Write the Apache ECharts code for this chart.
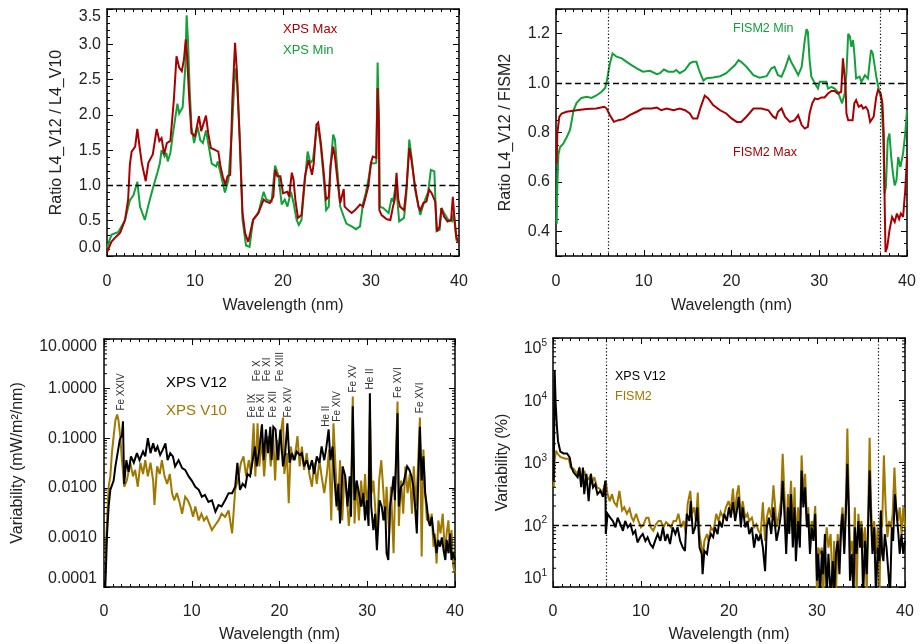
<!DOCTYPE html>
<html>
<head>
<meta charset="utf-8">
<script src="https://cdn.jsdelivr.net/npm/echarts@6/dist/echarts.min.js"></script>
<style>
html, body { margin: 0; padding: 0; background: #fff; }
#chart { width: 921px; height: 644px; }
</style>
</head>
<body>
<div id="chart"></div>
<script>
// ---------- Ratio L4_V12 / L4_V10 : [wavelength nm, ratio] ----------
const xpsMax = [
  [0,0.05],[0.5,0.2],[1.0,0.27],[1.5,0.33],[2.05,0.51],[2.4,0.8],[2.6,1.3],[2.8,1.48],[3.0,1.46],[3.2,1.55],
  [3.45,1.8],[3.7,1.55],[3.95,1.32],[4.4,1.06],[4.7,1.32],[5.2,1.44],[5.65,1.8],[5.95,1.63],[6.2,1.67],[6.5,1.44],
  [6.8,1.6],[7.2,1.63],[7.6,2.22],[7.9,2.83],[8.2,2.67],[8.5,2.62],[8.75,2.79],[8.95,3.07],[9.1,2.83],[9.35,2.22],
  [9.6,1.74],[10.0,1.7],[10.45,1.98],[10.7,1.77],[11.0,1.89],[11.25,1.99],[11.5,1.74],[11.8,1.53],[12.15,1.51],[12.65,1.48],
  [12.9,1.27],[13.15,1.13],[13.45,1.01],[13.7,1.13],[14.0,1.15],[14.25,2.22],[14.55,3.02],[14.75,2.64],[15.05,1.74],[15.4,0.61],
  [15.7,0.32],[16.05,0.2],[16.6,0.51],[17.2,0.61],[17.8,0.8],[18.1,0.77],[18.5,0.75],[18.9,0.84],[19.1,1.22],[19.35,1.13],
  [19.7,1.13],[20.0,0.89],[20.2,0.87],[20.5,0.91],[20.7,0.84],[21.0,1.18],[21.2,1.08],[21.4,0.8],[21.7,0.54],[22.1,0.58],
  [22.5,1.13],[22.9,1.36],[23.3,1.15],[23.5,1.32],[23.8,1.86],[24.0,1.89],[24.3,1.6],[24.6,1.22],[24.9,0.8],[25.2,0.84],
  [25.4,1.27],[25.7,1.55],[25.9,1.41],[26.2,1.06],[26.5,0.75],[26.9,0.95],[27.0,0.7],[27.4,0.65],[27.8,0.61],[28.2,0.65],
  [28.75,0.73],[29.1,0.7],[29.4,0.84],[29.7,0.99],[30.0,1.32],[30.2,1.41],[30.6,1.39],[30.75,2.38],[30.9,1.84],[30.95,0.65],
  [31.2,0.58],[31.8,0.52],[32.2,0.51],[32.5,0.7],[32.7,0.8],[32.9,1.18],[33.1,0.8],[33.3,0.7],[33.75,0.65],[34.05,0.99],
  [34.35,1.53],[34.6,1.36],[35.0,0.99],[35.4,0.7],[35.6,0.65],[35.95,0.75],[36.3,0.77],[36.6,0.94],[36.9,0.89],[37.3,0.77],
  [37.5,0.35],[37.8,0.42],[38.0,0.68],[38.3,0.56],[38.7,0.49],[39.1,0.51],[39.3,0.84],[39.5,0.51],[39.7,0.27],[40,0.18]
];
const xpsMin = [
  [0,0.12],[0.5,0.3],[1.3,0.34],[2.05,0.51],[2.6,0.79],[3.0,0.86],[3.45,1.05],[3.75,0.7],[4.3,0.51],[4.7,0.72],
  [5.26,0.98],[5.7,1.17],[6.0,1.31],[6.2,1.5],[6.55,1.41],[6.75,1.46],[6.9,1.34],[7.2,1.46],[7.5,1.74],[8.0,2.16],
  [8.2,2.02],[8.6,2.11],[8.9,2.68],[9.05,3.41],[9.2,3.06],[9.4,2.35],[9.6,1.83],[9.9,1.6],[10.3,1.83],[10.6,1.64],
  [10.9,1.6],[11.25,1.78],[11.5,1.6],[11.9,1.31],[12.4,1.27],[12.6,1.34],[13.0,1.12],[13.4,0.9],[13.8,1.08],[14.2,1.78],
  [14.55,2.66],[14.8,2.44],[15.1,1.64],[15.4,0.51],[15.8,0.15],[16.2,0.13],[16.6,0.51],[17.2,0.61],[17.8,0.91],[18.1,0.8],
  [18.7,0.77],[19.1,1.28],[19.5,1.13],[19.85,0.73],[20.2,0.8],[20.5,0.7],[20.9,0.91],[21.2,0.75],[21.55,0.51],[21.8,0.44],
  [22.1,0.51],[22.5,1.08],[22.8,1.48],[23.1,1.32],[23.4,1.36],[23.8,1.79],[24.0,1.82],[24.3,1.55],[24.6,1.13],[24.9,0.65],
  [25.2,0.7],[25.4,1.27],[25.7,1.72],[25.9,1.65],[26.2,1.18],[26.5,0.7],[26.9,0.56],[27.2,0.46],[27.8,0.42],[28.3,0.38],
  [28.75,0.42],[29.1,0.75],[29.4,0.89],[29.7,1.08],[30.0,1.32],[30.3,1.31],[30.6,1.32],[30.75,2.74],[30.9,1.98],[31.0,0.7],
  [31.4,0.68],[32.0,0.61],[32.35,0.82],[32.5,0.77],[32.8,0.99],[32.9,0.94],[33.2,0.49],[33.75,0.54],[34.0,0.84],[34.35,1.65],
  [34.6,1.41],[35.0,0.94],[35.6,0.58],[36.0,0.75],[36.5,0.91],[36.8,1.22],[37.2,1.2],[37.45,0.35],[37.8,0.37],[38.0,0.68],
  [38.3,0.61],[38.8,0.51],[39.2,0.49],[39.4,0.61],[39.7,0.23],[40,0.18]
];

// ---------- Ratio L4_V12 / FISM2 ----------
const fismMin = [
  [0.08,0.43],[0.15,0.58],[0.27,0.71],[0.45,0.74],[0.83,0.755],[1.2,0.78],[1.6,0.81],[2.0,0.89],[2.35,0.92],[2.9,0.94],
  [3.5,0.945],[4.06,0.94],[4.6,0.95],[5.2,0.965],[5.6,0.98],[5.77,1.005],[6.15,1.08],[6.45,1.12],[6.6,1.127],[6.9,1.107],
  [7.5,1.1],[8.05,1.086],[8.6,1.073],[9.2,1.06],[9.9,1.046],[10.7,1.05],[11.5,1.036],[11.85,1.04],[12.3,1.055],[12.8,1.046],
  [13.4,1.046],[13.7,1.053],[14.1,1.04],[14.7,1.053],[15.25,1.08],[15.6,1.086],[16.0,1.086],[16.3,1.053],[16.6,1.026],[16.8,1.01],
  [17.15,1.02],[17.9,1.023],[18.7,1.028],[19.4,1.04],[20.0,1.06],[20.4,1.073],[20.8,1.093],[21.1,1.086],[21.7,1.066],[22.5,1.032],
  [23.2,1.022],[24.0,1.028],[24.55,1.06],[24.9,1.066],[25.3,1.032],[25.7,1.026],[26.1,1.06],[26.55,1.107],[26.8,1.086],[27.2,1.06],
  [27.6,1.032],[28.0,1.066],[28.35,1.174],[28.55,1.218],[28.7,1.208],[28.9,1.093],[29.1,1.026],[29.5,0.999],[29.85,0.978],[30.05,1.005],
  [30.4,1.005],[30.8,1.005],[31.0,0.978],[31.4,0.985],[31.75,0.978],[32.1,0.965],[32.4,0.938],[32.6,0.918],[32.9,0.958],[33.1,1.04],
  [33.3,1.2],[33.5,1.188],[33.65,1.147],[33.85,1.174],[34.0,1.12],[34.2,1.019],[34.6,1.026],[34.8,1.005],[35.2,1.032],[35.55,1.019],
  [35.9,1.134],[36.1,1.12],[36.5,1.026],[36.8,0.972],[37.1,0.931],[37.3,0.769],[37.45,0.553],[37.6,0.58],[37.8,0.769],[38.0,0.796],
  [38.2,0.7],[38.4,0.634],[38.6,0.586],[38.8,0.607],[39.0,0.7],[39.25,0.66],[39.55,0.715],[39.8,0.796],[40,0.89]
];
const fismMax = [
  [0.08,0.674],[0.15,0.796],[0.38,0.864],[0.65,0.877],[1.2,0.884],[2.35,0.89],[3.5,0.895],[4.6,0.897],[5.5,0.904],[5.77,0.897],
  [6.15,0.87],[6.6,0.843],[7.1,0.85],[7.7,0.854],[8.4,0.87],[9.2,0.884],[9.9,0.897],[10.9,0.897],[11.5,0.901],[12.0,0.89],
  [12.6,0.897],[13.4,0.89],[14.1,0.897],[14.7,0.89],[15.25,0.877],[15.6,0.857],[16.1,0.857],[16.5,0.904],[16.95,0.949],[17.35,0.938],
  [17.9,0.911],[18.7,0.89],[19.4,0.877],[20.0,0.857],[20.6,0.843],[21.1,0.843],[21.7,0.864],[22.5,0.897],[23.4,0.897],[24.2,0.89],
  [24.75,0.864],[25.05,0.857],[25.3,0.884],[25.7,0.897],[26.1,0.864],[26.65,0.843],[27.2,0.85],[27.6,0.87],[27.8,0.87],[28.0,0.83],
  [28.35,0.816],[28.7,0.823],[28.9,0.877],[29.2,0.918],[29.5,0.938],[29.85,0.935],[30.25,0.942],[30.6,0.942],[31.0,0.958],[31.4,0.968],
  [31.75,0.968],[32.1,0.958],[32.5,0.965],[32.7,1.1],[32.9,1.093],[33.0,0.985],[33.1,0.877],[33.3,0.85],[33.8,0.85],[34.0,0.918],
  [34.2,0.931],[34.5,0.904],[34.8,0.911],[35.0,0.897],[35.3,0.904],[35.55,0.89],[35.8,0.843],[36.2,0.864],[36.5,0.945],[36.7,0.972],
  [37.0,0.958],[37.2,0.918],[37.35,0.796],[37.45,0.526],[37.55,0.316],[37.75,0.336],[38.0,0.404],[38.3,0.458],[38.6,0.438],[38.85,0.472],
  [39.1,0.45],[39.3,0.472],[39.55,0.458],[39.8,0.566],[40,0.701]
];

// ---------- Variability (mW/m^2/nm) ----------
const xpsV12 = [
  [0.15,1.0e-4],[0.35,1.2e-3],[0.53,4.2e-3],[0.72,9.1e-3],[1.1,1.4e-2],[1.3,2.7e-2],[1.55,5.0e-2],[1.8,9.3e-2],[2.05,0.117],[2.16,0.22],
  [2.3,1.2e-2],[2.55,3.6e-2],[2.8,2.1e-2],[3.07,4.3e-2],[3.4,3.2e-2],[3.75,5.0e-2],[4.05,3.6e-2],[4.45,5.4e-2],[4.7,4.3e-2],[5.0,0.1],
  [5.3,5.0e-2],[5.6,7.9e-2],[5.85,5.4e-2],[6.1,6.8e-2],[6.4,4.6e-2],[6.7,5.9e-2],[7.0,7.9e-2],[7.25,3.6e-2],[7.55,5.0e-2],[7.85,4.3e-2],
  [8.1,2.7e-2],[8.5,3.6e-2],[8.9,2.5e-2],[9.25,2.3e-2],[9.65,1.7e-2],[10.0,1.4e-2],[10.4,1.05e-2],[10.8,9.1e-3],[11.15,6.6e-3],[11.5,7.2e-3],
  [11.9,5.2e-3],[12.3,5.6e-3],[12.7,3.3e-3],[13.05,4.5e-3],[13.4,4.2e-3],[13.8,5.6e-3],[14.2,7.8e-3],[14.6,7.8e-3],[14.95,1.05e-2],[15.2,3.2e-2],
  [15.5,9.1e-3],[15.8,1.2e-2],[16.1,1.05e-2],[16.35,1.9e-2],[16.65,1.7e-2],[16.95,3.6e-2],[17.2,6.8e-2],[17.4,2.7e-2],[17.7,5.9e-2],[18.0,0.19],
  [18.2,3.6e-2],[18.45,0.15],[18.7,5.0e-2],[18.95,0.17],[19.1,3.6e-2],[19.3,0.17],[19.55,0.15],[19.8,3.6e-2],[20.1,0.15],[20.4,2.7e-2],
  [20.65,5.0e-2],[20.9,0.2],[21.15,3.2e-2],[21.4,5.0e-2],[21.7,3.6e-2],[21.95,5.4e-2],[22.3,4.6e-2],[22.55,5.0e-2],[22.8,2.7e-2],[23.1,3.6e-2],
  [23.4,2.3e-2],[23.7,3.6e-2],[23.95,1.9e-2],[24.25,4.3e-2],[24.55,3.2e-2],[24.8,6.8e-2],[25.1,3.6e-2],[25.3,5.9e-2],[25.6,0.15],[25.8,3.6e-2],
  [26.05,6.8e-2],[26.25,1.7e-2],[26.5,4.2e-3],[26.7,1.2e-2],[26.9,1.9e-3],[27.2,2.7e-2],[27.5,1.7e-2],[27.75,4.2e-3],[28.0,1.7e-2],[28.15,2.6e-3],
  [28.35,0.44],[28.55,5.6e-3],[28.8,1.4e-2],[29.05,7.8e-3],[29.3,4.2e-3],[29.55,7.8e-3],[29.75,2.2e-3],[29.95,5.6e-3],[30.15,1.7e-3],[30.3,0.81],
  [30.45,4.2e-3],[30.7,1.4e-3],[30.9,3.0e-3],[31.1,5.5e-4],[31.4,5.6e-3],[31.65,4.2e-3],[31.85,2.2e-3],[32.05,4.2e-3],[32.2,4.8e-4],[32.4,3.5e-4],
  [32.6,4.2e-3],[32.8,7.8e-3],[33.0,1.7e-2],[33.15,5.6e-3],[33.45,0.32],[33.6,4.2e-3],[33.85,1.05e-2],[34.1,1.2e-2],[34.3,1.7e-2],[34.55,2.7e-2],
  [34.8,2.3e-2],[35.05,1.7e-2],[35.25,1.05e-2],[35.45,4.2e-3],[35.65,1.2e-3],[35.8,1.2e-2],[36.0,0.17],[36.2,1.4e-2],[36.4,4.3e-2],[36.6,7.8e-3],
  [36.8,4.2e-3],[36.95,2.2e-3],[37.15,1.7e-3],[37.35,2.6e-3],[37.55,1.2e-3],[37.7,8.9e-4],[37.9,4.8e-4],[38.1,8.9e-4],[38.3,6.5e-4],[38.5,1.0e-3],
  [38.7,5.5e-4],[38.9,3.5e-4],[39.05,8.9e-4],[39.25,4.8e-4],[39.45,1.2e-3],[39.6,3.5e-4],[39.8,4.8e-4],[40,3.5e-4]
];
const xpsV10 = [
  [0.15,3.5e-4],[0.35,2.2e-3],[0.53,1.05e-2],[0.72,1.7e-2],[0.9,5.0e-2],[1.1,0.11],[1.3,0.23],[1.5,0.3],[1.65,0.23],[1.85,0.11],
  [2.05,3.6e-2],[2.3,1.05e-2],[2.6,1.4e-2],[3.0,3.2e-2],[3.3,1.7e-2],[3.55,2.3e-2],[3.85,1.05e-2],[4.15,3.2e-2],[4.45,1.9e-2],[4.7,3.6e-2],
  [5.0,1.7e-2],[5.3,3.2e-2],[5.6,1.4e-2],[5.75,4.5e-3],[6.05,2.7e-2],[6.35,1.9e-2],[6.6,3.6e-2],[6.9,1.7e-2],[7.2,1.2e-2],[7.5,1.9e-2],
  [7.75,7.8e-3],[8.0,5.6e-3],[8.3,7.8e-3],[8.6,5.2e-3],[8.9,3.0e-3],[9.25,6.6e-3],[9.55,5.6e-3],[9.85,4.2e-3],[10.15,2.6e-3],[10.4,4.2e-3],
  [10.8,2.2e-3],[11.1,3.0e-3],[11.4,2.2e-3],[11.7,2.6e-3],[12.0,1.9e-3],[12.3,1.4e-3],[12.7,1.8e-3],[13.05,2.2e-3],[13.4,3.0e-3],[13.8,2.6e-3],
  [14.2,3.5e-3],[14.6,1.2e-3],[14.95,9.1e-3],[15.35,1.7e-2],[15.6,3.2e-2],[15.9,4.3e-2],[16.2,1.7e-2],[16.5,3.6e-2],[16.75,1.9e-2],[17.05,0.2],
  [17.25,1.7e-2],[17.5,0.2],[17.7,2.7e-2],[18.0,9.3e-2],[18.25,1.7e-2],[18.5,6.8e-2],[18.75,0.11],[19.0,2.7e-2],[19.25,0.15],[19.5,1.4e-2],
  [19.7,9.3e-2],[19.9,3.6e-2],[20.15,0.126],[20.4,0.26],[20.55,1.9e-2],[20.85,5.0e-2],[21.05,4.9e-3],[21.3,6.8e-2],[21.5,3.6e-2],[21.8,5.0e-2],
  [22.05,0.11],[22.3,2.7e-2],[22.55,6.8e-2],[22.8,2.3e-2],[23.1,5.0e-2],[23.4,1.9e-2],[23.7,1.05e-2],[23.95,3.2e-2],[24.25,1.2e-2],[24.55,3.6e-2],
  [24.8,1.7e-2],[25.1,7.8e-3],[25.4,1.9e-2],[25.65,5.9e-2],[25.9,2.2e-3],[26.15,0.2],[26.4,2.3e-2],[26.65,3.5e-3],[26.9,3.6e-2],[27.15,2.2e-3],
  [27.4,1.9e-2],[27.65,7.8e-3],[27.9,1.7e-3],[28.15,6.6e-3],[28.35,0.69],[28.55,1.9e-3],[28.8,1.4e-2],[29.05,2.2e-3],[29.3,1.4e-2],[29.55,4.2e-3],
  [29.75,1.9e-2],[29.95,4.2e-3],[30.15,1.05e-2],[30.3,0.32],[30.5,7.8e-3],[30.7,1.4e-2],[30.9,4.2e-3],[31.1,8.9e-4],[31.35,1.4e-2],[31.6,3.6e-2],
  [31.85,7.8e-3],[32.05,2.2e-3],[32.2,1.05e-2],[32.5,1.2e-3],[32.7,1.05e-2],[33.0,4.8e-4],[33.2,1.4e-2],[33.45,0.55],[33.6,1.7e-3],[33.85,1.4e-2],
  [34.1,3.0e-3],[34.35,2.7e-2],[34.6,7.8e-3],[34.85,1.9e-2],[35.1,3.0e-3],[35.3,2.7e-2],[35.55,4.2e-3],[35.75,1.9e-2],[36.0,0.26],[36.2,4.1e-4],
  [36.4,5.9e-2],[36.6,7.8e-3],[36.8,2.2e-3],[36.95,3.0e-3],[37.15,1.7e-3],[37.35,3.0e-3],[37.55,6.5e-4],[37.7,1.2e-3],[37.9,3.0e-4],[38.1,2.2e-3],
  [38.35,1.2e-3],[38.6,3.0e-3],[38.85,4.8e-4],[39.05,1.2e-3],[39.25,2.2e-3],[39.45,4.8e-4],[39.6,1.4e-3],[39.8,2.6e-4],[40,1.9e-4]
];

// ion line identifications: [wavelength, anchor value, name]
const ionWl   = [1.97, 16.9, 17.97, 17.46, 18.56, 19.34, 20.14, 21.05, 25.38, 26.54, 28.39, 30.3, 33.52, 36.02];
const ionAt   = [0.36, 0.26, 0.26, 1.4, 1.4, 0.26, 1.4, 0.26, 0.17, 0.215, 0.83, 0.955, 0.65, 0.32];
const ionName = ['Fe XXIV','Fe IX','Fe XI','Fe X','Fe XI','Fe XII','Fe XIII','Fe XIV','He II','Fe XIV','Fe XV','He II','Fe XVI','Fe XVI'];

// ---------- Variability (%) ----------
const pctV12 = [
  [0.08,510],[0.19,3.0e4],[0.3,8.9e3],[0.45,3.7e3],[0.57,2.2e3],[0.83,1500],[1.2,1400],[1.6,1400],[1.9,1200],[2.1,830],
  [2.35,690],[2.55,740],[2.8,580],[3.0,830],[3.2,400],[3.4,830],[3.55,310],[3.8,660],[4.05,240],[4.3,660],
  [4.55,400],[4.8,450],[5.05,310],[5.4,350],[5.7,280],[5.95,510],[6.0,71],[6.2,150],[6.5,130],[6.8,115],
  [7.1,91],[7.35,130],[7.65,102],[7.95,80],[8.2,115],[8.5,91],[8.8,102],[9.1,71],[9.35,80],[9.6,52],
  [9.9,63],[10.2,71],[10.5,55],[10.75,63],[11.05,49],[11.35,43],[11.6,55],[11.9,71],[12.2,55],[12.5,91],
  [12.75,55],[13.0,71],[13.3,49],[13.6,91],[13.9,71],[14.15,91],[14.45,55],[14.75,43],[15.0,38],[15.2,150],
  [15.5,115],[15.65,240],[15.9,71],[16.15,91],[16.4,190],[16.65,43],[16.9,34],[17.0,16],[17.2,38],[17.5,34],
  [17.7,55],[17.95,71],[18.2,63],[18.4,91],[18.7,71],[18.9,115],[19.2,91],[19.45,150],[19.75,115],[20.0,190],
  [20.2,130],[20.45,230],[20.7,115],[20.9,170],[21.1,280],[21.35,91],[21.55,190],[21.85,91],[22.1,115],[22.3,71],
  [22.6,91],[22.85,43],[23.1,71],[23.35,55],[23.6,71],[23.85,43],[24.1,18],[24.3,91],[24.55,130],[24.8,71],
  [25.05,190],[25.25,91],[25.4,55],[25.7,91],[25.9,150],[26.1,510],[26.3,150],[26.5,34],[26.7,190],[26.85,71],
  [27.05,310],[27.25,43],[27.45,190],[27.6,26],[27.85,115],[28.05,43],[28.25,740],[28.45,190],[28.65,400],[28.85,91],
  [29.0,150],[29.2,34],[29.4,91],[29.6,55],[29.8,150],[30.0,12.6],[30.15,34],[30.35,7],[30.55,38],[30.7,16],
  [30.9,71],[31.1,7],[31.3,34],[31.55,7],[31.8,26],[31.95,7],[32.15,34],[32.35,55],[32.55,16],[32.75,91],
  [32.9,150],[33.1,34],[33.3,190],[33.45,950],[33.6,190],[33.75,12.6],[33.95,34],[34.15,7],[34.3,91],[34.5,34],
  [34.7,115],[34.9,43],[35.05,91],[35.25,7],[35.45,55],[35.65,16],[35.85,150],[35.98,740],[36.15,115],[36.3,34],
  [36.5,91],[36.7,7],[36.9,43],[37.1,26],[37.25,170],[37.4,34],[37.55,26],[37.7,71],[37.9,43],[38.1,18],
  [38.3,7],[38.5,91],[38.65,55],[38.85,310],[39.05,150],[39.25,71],[39.4,34],[39.6,71],[39.8,34],[40,55]
];
const pctFism = [
  [0.08,400],[0.19,1070],[0.34,1550],[0.53,1380],[0.83,1230],[1.4,1150],[1.8,1150],[2.0,830],[2.35,790],[2.7,660],
  [3.0,790],[3.3,510],[3.55,740],[3.85,510],[4.15,580],[4.4,450],[4.7,580],[5.0,400],[5.3,380],[5.55,310],
  [5.8,400],[6.0,510],[6.2,310],[6.45,240],[6.7,310],[6.95,230],[7.25,200],[7.55,350],[7.85,170],[8.1,190],
  [8.4,150],[8.7,180],[8.95,130],[9.15,115],[9.45,150],[9.7,115],[10.0,91],[10.3,102],[10.6,130],[10.85,130],
  [11.1,91],[11.4,80],[11.7,102],[12.0,115],[12.25,115],[12.55,91],[12.85,110],[13.1,102],[13.4,91],[13.7,115],
  [14.0,115],[14.25,150],[14.55,91],[14.85,115],[15.1,71],[15.3,215],[15.6,350],[15.8,150],[16.05,190],[16.25,115],
  [16.45,330],[16.65,71],[16.9,43],[17.0,26],[17.2,55],[17.5,71],[17.7,55],[17.95,91],[18.25,80],[18.55,150],
  [18.8,115],[19.05,160],[19.35,130],[19.65,190],[19.95,240],[20.2,170],[20.45,380],[20.65,150],[20.9,310],[21.1,430],
  [21.35,130],[21.55,240],[21.85,130],[22.1,150],[22.3,115],[22.6,130],[22.85,91],[23.1,102],[23.35,80],[23.6,71],
  [23.85,230],[24.1,55],[24.3,130],[24.55,190],[24.8,130],[25.05,430],[25.25,190],[25.4,91],[25.7,150],[25.9,240],
  [26.1,1380],[26.3,310],[26.5,63],[26.7,310],[26.85,150],[27.05,510],[27.25,71],[27.45,400],[27.6,55],[27.85,190],
  [28.05,71],[28.25,1300],[28.45,310],[28.65,660],[28.85,115],[29.0,190],[29.2,55],[29.4,115],[29.6,91],[29.8,200],
  [30.0,7],[30.15,43],[30.35,34],[30.55,43],[30.7,7],[30.9,38],[31.1,91],[31.3,43],[31.55,71],[31.8,7],
  [31.95,55],[32.15,7],[32.35,71],[32.55,34],[32.75,115],[32.9,190],[33.1,43],[33.3,310],[33.45,3500],[33.6,310],
  [33.75,34],[33.95,55],[34.15,26],[34.3,190],[34.5,7],[34.7,150],[34.9,71],[35.05,115],[35.25,43],[35.45,91],
  [35.65,7],[35.85,280],[35.98,2500],[36.15,190],[36.3,55],[36.5,115],[36.7,34],[36.9,91],[37.1,7],[37.25,150],
  [37.4,91],[37.6,1300],[37.8,190],[38.0,63],[38.2,115],[38.4,91],[38.6,150],[38.8,830],[39.0,190],[39.2,115],
  [39.4,190],[39.6,71],[39.8,190],[40,91]
];

// ---------- drawing ----------
const FONT = '"Liberation Sans", Arial, Helvetica, sans-serif';
const RED = '#a80000', GREEN = '#12a03a', GOLD = '#a07800', BLACK = '#000000';
const LABEL = '#222';

const chart = echarts.init(document.getElementById('chart'), null, { renderer: 'canvas' });

const frameLine = { show: true, onZero: false, lineStyle: { color: '#000', width: 1.5 } };
const tick = { show: true, inside: true, length: 6, lineStyle: { color: '#000', width: 1 } };

function xPair(g, nameGap, margin) {
  const base = {
    gridIndex: g, type: 'value', min: 0, max: 40, interval: 10,
    axisLine: frameLine, axisTick: tick,
    minorTick: { show: true, splitNumber: 10, length: 3, lineStyle: { color: '#000', width: 1 } },
    splitLine: { show: false }
  };
  return [
    Object.assign({}, base, {
      position: 'bottom',
      name: 'Wavelength (nm)', nameLocation: 'middle', nameGap: nameGap,
      nameTextStyle: { fontSize: 16, color: LABEL, fontFamily: FONT },
      axisLabel: { fontSize: 16, margin: margin, color: LABEL, fontFamily: FONT }
    }),
    Object.assign({}, base, { position: 'top', axisLabel: { show: false } })
  ];
}

function yPair(g, spec) {
  const base = Object.assign({
    gridIndex: g, axisLine: frameLine, axisTick: tick, splitLine: { show: false }
  }, spec.scale);
  return [
    Object.assign({}, base, {
      position: 'left',
      name: spec.name, nameLocation: 'middle', nameGap: spec.nameGap,
      nameTextStyle: { fontSize: 16, color: LABEL, fontFamily: FONT },
      axisLabel: Object.assign({
        fontSize: 16, margin: spec.margin, color: LABEL, fontFamily: FONT,
        verticalAlignMaxLabel: 'top', verticalAlignMinLabel: 'bottom'
      }, spec.label)
    }),
    Object.assign({}, base, { position: 'right', axisLabel: { show: false }, name: '' })
  ];
}

const xAxis = [].concat(xPair(0, 42, 18), xPair(1, 42, 18), xPair(2, 40, 17), xPair(3, 40, 17));
const yAxis = [].concat(
  yPair(0, {
    name: 'Ratio L4_V12 / L4_V10', nameGap: 42, margin: 6,
    scale: { type: 'value', min: 0, max: 3.5, interval: 0.5,
      minorTick: { show: true, splitNumber: 5, length: 3, lineStyle: { color: '#000', width: 1 } } },
    label: { formatter: v => v.toFixed(1) }
  }),
  yPair(1, {
    name: 'Ratio L4_V12 / FISM2', nameGap: 42, margin: 6,
    scale: { type: 'value', min: 0.3, max: 1.3, splitNumber: 5,
      minorTick: { show: true, splitNumber: 4, length: 3, lineStyle: { color: '#000', width: 1 } } },
    label: { formatter: v => v.toFixed(1), showMinLabel: false, showMaxLabel: false }
  }),
  yPair(2, {
    name: 'Variability (mW/m²/nm)', nameGap: 78, margin: 7,
    scale: { type: 'log', logBase: 10, min: 1e-4, max: 10, splitNumber: 5 },
    label: { formatter: v => v.toFixed(4) }
  }),
  yPair(3, {
    name: 'Variability (%)', nameGap: 42, margin: 6,
    scale: { type: 'log', logBase: 10, min: 10, max: 1e5, splitNumber: 4 },
    label: {
      formatter: v => '{b|10}{s|' + Math.round(Math.log10(v)) + '}',
      rich: {
        b: { fontSize: 16, color: LABEL, fontFamily: FONT, verticalAlign: 'bottom' },
        s: { fontSize: 10, color: LABEL, fontFamily: FONT, verticalAlign: 'top', padding: [0, 0, 9, 0] }
      }
    }
  })
);

function line(g, data, color, width) {
  return {
    type: 'line', xAxisIndex: 2 * g, yAxisIndex: 2 * g, data: data,
    showSymbol: false, symbol: 'none', clip: true,
    lineStyle: { color: color, width: width, join: 'miter', miterLimit: 3 }, silent: true, z: 3
  };
}

function guides(items) {
  return {
    silent: true, symbol: ['none', 'none'], animation: false,
    label: { show: false }, emphasis: { disabled: true },
    data: items
  };
}
const dashed = { color: '#000', width: 1.4, type: [6, 3.5] };
const dotted = { color: '#000', width: 1.2, type: [1.2, 2.2] };

// IDL-style log minor ticks (2..9 within each decade) on both vertical frame edges
function logMinorTicks(g, decades) {
  const vals = [];
  decades.forEach(d => { for (let k = 2; k <= 9; k++) vals.push([0, k * d]); });
  return {
    type: 'custom', xAxisIndex: 2 * g, yAxisIndex: 2 * g, silent: true, clip: false, z: 5,
    data: vals,
    renderItem: (params, api) => {
      const cs = params.coordSys;
      const y = api.coord([0, api.value(1)])[1];
      const st = { stroke: '#000', lineWidth: 1 };
      return { type: 'group', children: [
        { type: 'line', shape: { x1: cs.x, y1: y, x2: cs.x + 3, y2: y }, style: st },
        { type: 'line', shape: { x1: cs.x + cs.width - 3, y1: y, x2: cs.x + cs.width, y2: y }, style: st }
      ] };
    }
  };
}

const ionSeries = {
  type: 'custom', xAxisIndex: 4, yAxisIndex: 4, silent: true, clip: false, z: 6,
  data: ionWl.map((w, i) => [w, ionAt[i]]),
  renderItem: (params, api) => {
    const p = api.coord([api.value(0), api.value(1)]);
    return {
      type: 'text', x: p[0], y: p[1], rotation: Math.PI / 2,
      style: { text: ionName[params.dataIndex], fill: '#333', font: '10px ' + FONT,
               align: 'left', verticalAlign: 'middle' }
    };
  }
};

const series = [
  line(0, xpsMin, GREEN, 2),
  Object.assign(line(0, xpsMax, RED, 2), { markLine: guides([{ yAxis: 1, lineStyle: dashed }]) }),
  line(1, fismMin, GREEN, 2),
  Object.assign(line(1, fismMax, RED, 2), { markLine: guides([
    { yAxis: 1, lineStyle: dashed }, { xAxis: 6, lineStyle: dotted }, { xAxis: 37, lineStyle: dotted }
  ]) }),
  line(2, xpsV10, GOLD, 2),
  line(2, xpsV12, BLACK, 2),
  line(3, pctFism, GOLD, 2),
  Object.assign(line(3, pctV12, BLACK, 2), { markLine: guides([
    { yAxis: 100, lineStyle: dashed }, { xAxis: 6, lineStyle: dotted }, { xAxis: 37, lineStyle: dotted }
  ]) }),
  logMinorTicks(2, [1e-4, 1e-3, 1e-2, 1e-1, 1]),
  logMinorTicks(3, [10, 100, 1000, 10000]),
  ionSeries
];

function legendText(x, y, text, color, size) {
  return { type: 'text', x: x, y: y, silent: true, z: 10,
    style: { text: text, fill: color, font: size + 'px ' + FONT, verticalAlign: 'middle', align: 'left' } };
}

chart.setOption({
  animation: false,
  backgroundColor: '#ffffff',
  grid: [
    { left: 107, top: 9, width: 352, height: 247 },
    { left: 556, top: 9, width: 351, height: 247 },
    { left: 104, top: 339, width: 351, height: 248 },
    { left: 553, top: 338, width: 352, height: 249 }
  ],
  xAxis: xAxis,
  yAxis: yAxis,
  series: series,
  graphic: [
    legendText(283, 29, 'XPS Max', RED, 13),
    legendText(283, 50, 'XPS Min', GREEN, 13),
    legendText(733, 29, 'FISM2 Min', GREEN, 12.5),
    legendText(733, 153, 'FISM2 Max', RED, 12.5),
    legendText(166, 383, 'XPS V12', BLACK, 15),
    legendText(166, 411, 'XPS V10', GOLD, 15),
    legendText(615, 377, 'XPS V12', BLACK, 12.5),
    legendText(615, 397, 'FISM2', GOLD, 12.5)
  ]
});
</script>
</body>
</html>
